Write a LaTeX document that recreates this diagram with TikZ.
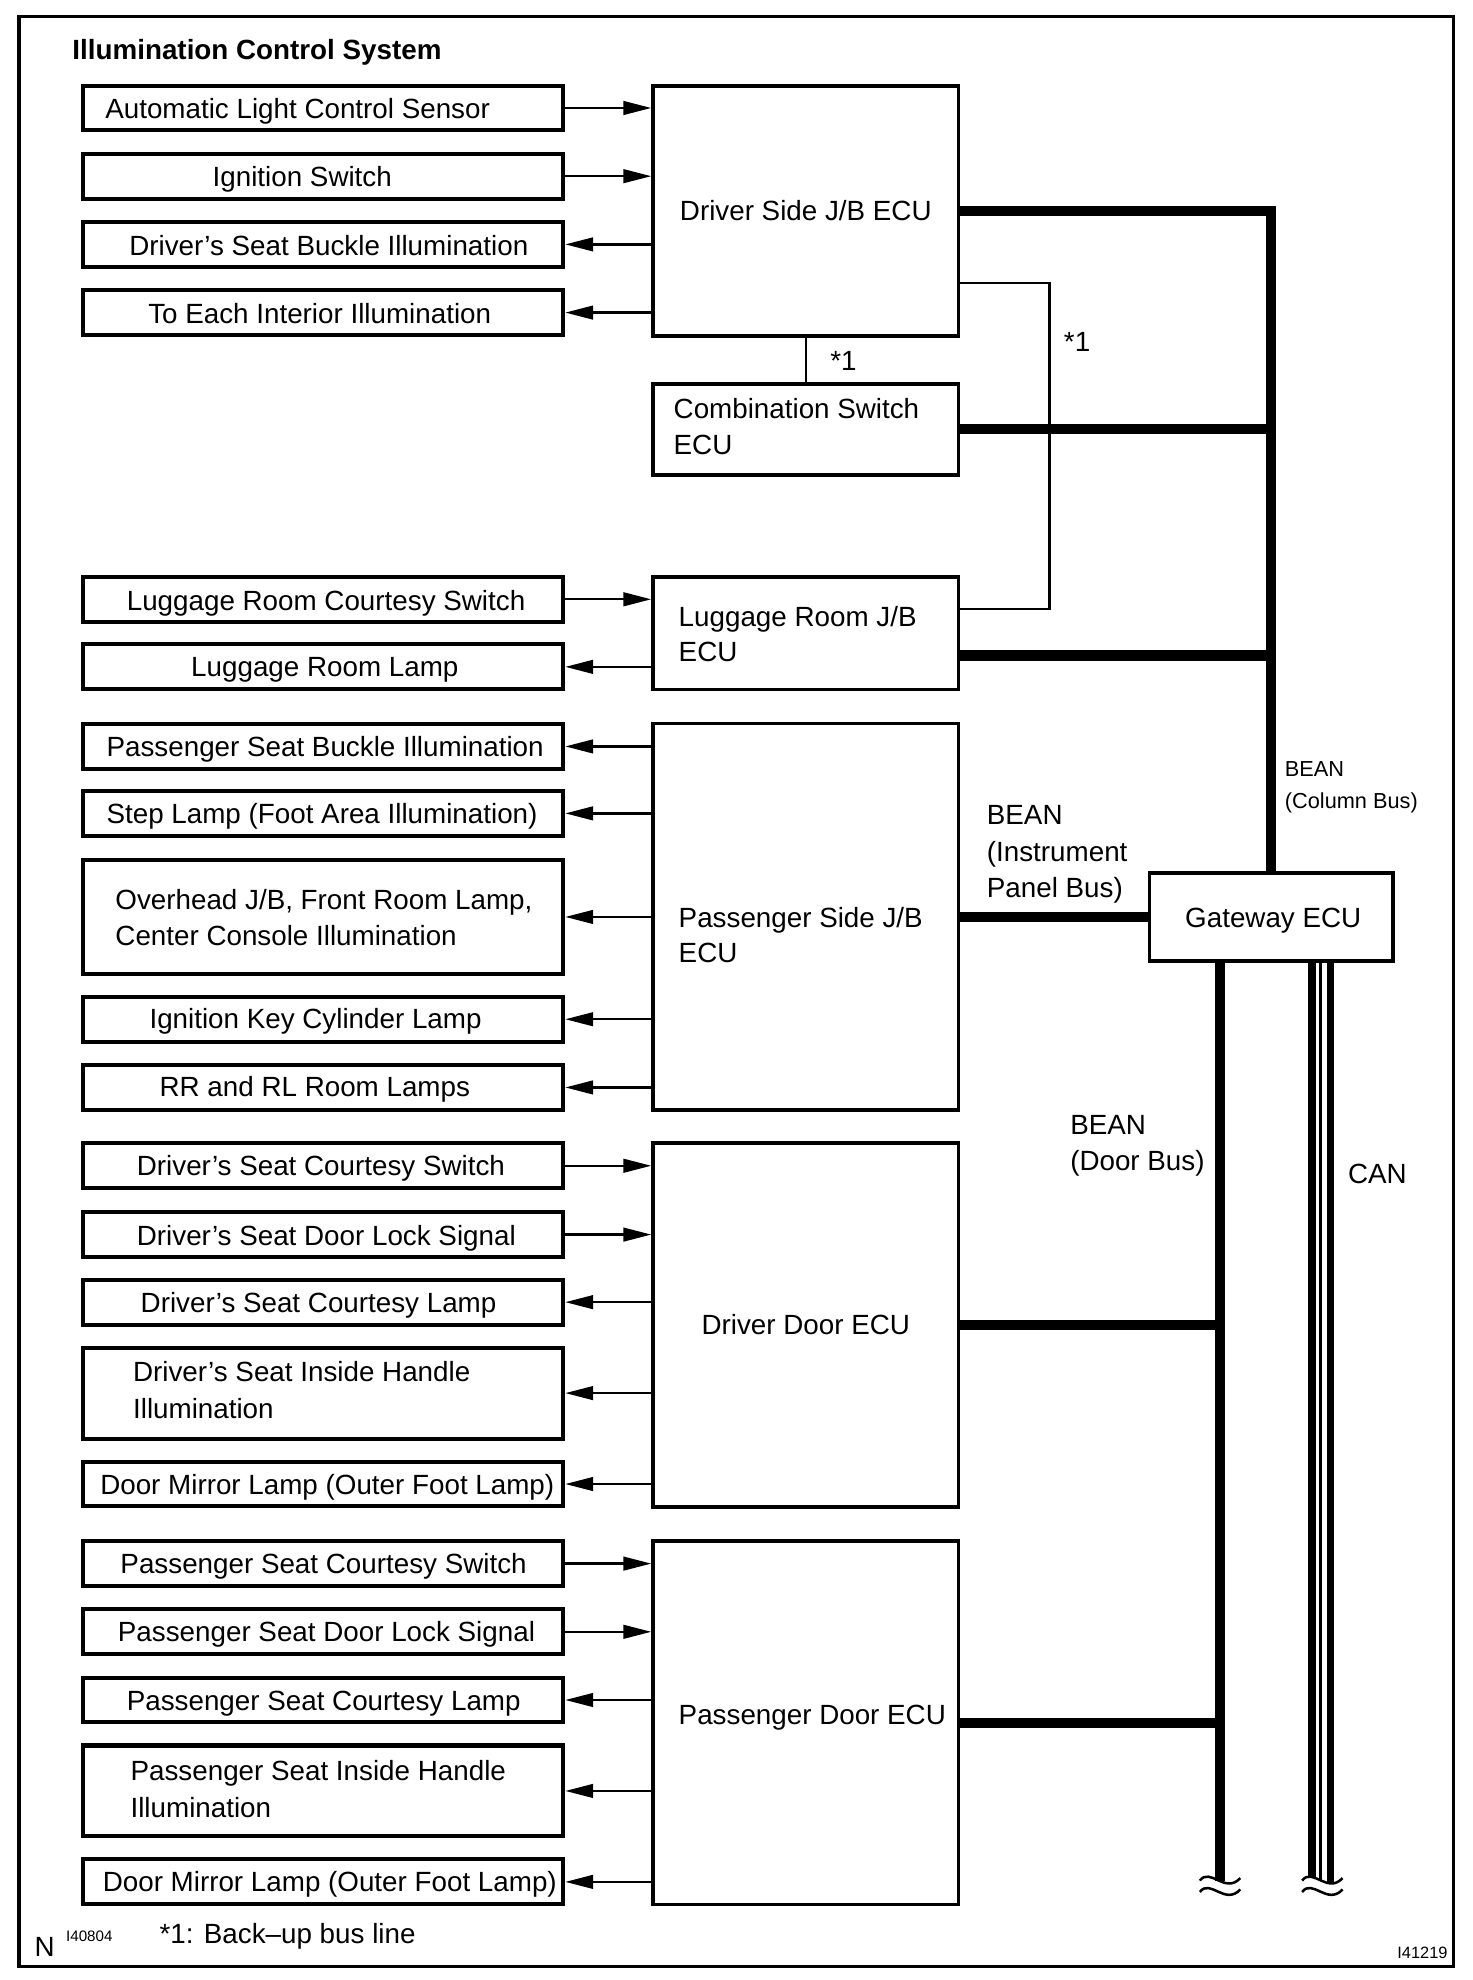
\documentclass[tikz,border=0pt]{standalone}
\usepackage{fontspec}
\setmainfont{Liberation Sans}
\usetikzlibrary{arrows.meta}
\begin{document}
\begin{tikzpicture}[x=0.5pt,y=-0.5pt,
  lbox/.style={draw, line width=1.6pt, minimum width=190pt, minimum height=17.75pt, inner sep=0pt},
  ecu/.style={draw, line width=1.4pt, minimum width=121pt, inner sep=0pt, font=\fontsize{11}{14.5}\selectfont},
  txt/.style={inner sep=0pt, anchor=base west, font=\fontsize{11}{14.5}\selectfont},
  stxt/.style={inner sep=0pt, anchor=base west, font=\fontsize{8.6}{12.5}\selectfont},
  thinl/.style={line width=0.9pt},
  inarr/.style={line width=0.9pt, -{Triangle[length=11pt,width=5.4pt]}},
  outarr/.style={line width=0.9pt, {Triangle[length=11pt,width=5.4pt]}-},
  bus/.style={line width=4pt},
  wave/.style={line width=1pt}
]
\useasboundingbox (0,0) rectangle (1165.5,1567.7);
\draw[line width=1.3pt] (15,13) rectangle (1151,1557);

\node[inner sep=0pt, anchor=base west, font=\bfseries\fontsize{11}{13}\selectfont] (title) at (57,47) {Illumination Control System};

% left boxes
\node[lbox] (b1) at (256,85.5) {};
\node[lbox] (b2) at (256,139.5) {};
\node[lbox] (b3) at (256,193.5) {};
\node[lbox] (b4) at (256,247.5) {};
\node[lbox] (b5) at (256,474.5) {};
\node[lbox] (b6) at (256,528) {};
\node[lbox] (b7) at (256,591) {};
\node[lbox] (b8) at (256,644) {};
\node[lbox, minimum height=45pt] (b9) at (256,726) {};
\node[lbox] (b10) at (256,807) {};
\node[lbox] (b11) at (256,861) {};
\node[lbox] (b12) at (256,923) {};
\node[lbox] (b13) at (256,977.5) {};
\node[lbox] (b14) at (256,1031) {};
\node[lbox, minimum height=36pt] (b15) at (256,1103) {};
\node[lbox] (b16) at (256,1175) {};
\node[lbox] (b17) at (256,1238) {};
\node[lbox] (b18) at (256,1292) {};
\node[lbox] (b19) at (256,1346) {};
\node[lbox, minimum height=36pt] (b20) at (256,1418) {};
\node[lbox] (b21) at (256,1490) {};

\node[txt] (t1) at (83,94) {Automatic Light Control Sensor};
\node[txt] (t2) at (168,148) {Ignition Switch};
\node[txt] (t3) at (102,202) {Driver’s Seat Buckle Illumination};
\node[txt] (t4) at (117,256) {To Each Interior Illumination};
\node[txt] (t5) at (100,483) {Luggage Room Courtesy Switch};
\node[txt] (t6) at (151,536) {Luggage Room Lamp};
\node[txt] (t7) at (84,599) {Passenger Seat Buckle Illumination};
\node[txt] (t8) at (84,652) {Step Lamp (Foot Area Illumination)};
\node[txt] (t9a) at (91,720) {Overhead J/B, Front Room Lamp,};
\node[txt] (t9b) at (91,749) {Center Console Illumination};
\node[txt] (t10) at (118,814) {Ignition Key Cylinder Lamp};
\node[txt] (t11) at (126,868) {RR and RL Room Lamps};
\node[txt] (t12) at (108,931) {Driver’s Seat Courtesy Switch};
\node[txt] (t13) at (108,986) {Driver’s Seat Door Lock Signal};
\node[txt] (t14) at (111,1039) {Driver’s Seat Courtesy Lamp};
\node[txt] (t15a) at (105,1094) {Driver’s Seat Inside Handle};
\node[txt] (t15b) at (105,1123) {Illumination};
\node[txt] (t16) at (79,1183) {Door Mirror Lamp (Outer Foot Lamp)};
\node[txt] (t17) at (95,1246) {Passenger Seat Courtesy Switch};
\node[txt] (t18) at (93,1300) {Passenger Seat Door Lock Signal};
\node[txt] (t19) at (100,1354) {Passenger Seat Courtesy Lamp};
\node[txt] (t20a) at (103,1410) {Passenger Seat Inside Handle};
\node[txt] (t20b) at (103,1439) {Illumination};
\node[txt] (t21) at (81,1498) {Door Mirror Lamp (Outer Foot Lamp)};

% ECU boxes
\node[ecu, minimum height=99pt] (djb) at (638,167) {Driver Side J/B ECU};
\node[ecu, minimum height=36pt] (cs) at (638,340) {};
\node[ecu, minimum height=44.5pt] (lj) at (638,501.5) {};
\node[ecu, minimum height=153pt] (psj) at (638,726) {};
\node[ecu, minimum height=144pt] (dd) at (638,1049) {Driver Door ECU};
\node[ecu, minimum height=144pt] (pd) at (638,1364) {};
\node[ecu, minimum width=96.5pt, minimum height=35pt] (gw) at (1006.5,726) {};

\node[txt] (gwt) at (938,734) {Gateway ECU};
\node[txt] (cst1) at (533,331) {Combination Switch};
\node[txt] (cst2) at (533,360) {ECU};
\node[txt] (ljt1) at (537,496) {Luggage Room J/B};
\node[txt] (ljt2) at (537,524) {ECU};
\node[txt] (pst1) at (537,734) {Passenger Side J/B};
\node[txt] (pst2) at (537,762) {ECU};
\node[txt] (pdt) at (537,1365) {Passenger Door ECU};

% arrows
\foreach \b in {b1,b2,b5,b12,b13,b17,b18} \draw[inarr] (\b.east) -- (\b.east -| djb.west);
\foreach \b in {b3,b4,b6,b7,b8,b9,b10,b11,b14,b15,b16,b19,b20,b21} \draw[outarr] (\b.east) -- (\b.east -| djb.west);

% bus lines
\coordinate (bk) at (831,350);
\coordinate (db) at (966,1489);
\coordinate (canA) at (1038.8,1487);
\coordinate (canB) at (1045.5,1489);
\coordinate (canC) at (1053.4,1491);
\draw[bus] (djb.east) -| (gw.north);
\draw[bus] (cs.east) -- (cs.east -| gw.north);
\draw[bus] ([yshift=-8.75pt]lj.east) -- ([yshift=-8.75pt]lj.east -| gw.north);
\draw[bus] (psj.east) -- (gw.west);
\draw[bus] (db |- gw.south) -- (db);
\draw[bus] (dd.east) -- (dd.east -| db);
\draw[bus] (pd.east) -- (pd.east -| db);
\draw[line width=2.9pt] (canA |- gw.south) -- (canA);
\draw[line width=0.9pt] (canB |- gw.south) -- (canB);
\draw[line width=2.9pt] (canC |- gw.south) -- (canC);

% back-up bus line
\draw[thinl] (djb.south) -- (cs.north);
\draw[thinl] ([yshift=-28.5pt]djb.east) -| (bk) |- ([yshift=9.75pt]lj.east);

% waves
\foreach \x in {950,1031} {
  \draw[wave] (\x,1489) .. controls (\x+8,1478) and (\x+20,1500) .. (\x+32,1487);
  \draw[wave] (\x,1498) .. controls (\x+8,1487) and (\x+20,1509) .. (\x+32,1496);
}

% labels
\node[txt] (s1a) at (657,293) {*1};
\node[txt] (s1b) at (842,278) {*1};
\node[stxt] (bc1) at (1017,615) {BEAN};
\node[stxt] (bc2) at (1017,640) {(Column Bus)};
\node[txt] (bi1) at (781,653) {BEAN};
\node[txt] (bi2) at (781,682) {(Instrument};
\node[txt] (bi3) at (781,711) {Panel Bus)};
\node[txt] (bd1) at (847,898) {BEAN};
\node[txt] (bd2) at (847,927) {(Door Bus)};
\node[txt] (canl) at (1067,937) {CAN};

\node[txt] (nn) at (27,1549) {N};
\node[inner sep=0pt, anchor=base west, font=\fontsize{6}{7}\selectfont] (id1) at (52,1537) {I40804};
\node[txt] (note) at (126,1539) {*1: Back–up bus line};
\node[inner sep=0pt, anchor=base west, font=\fontsize{6.5}{7}\selectfont] (id2) at (1106,1551) {I41219};
\end{tikzpicture}
\end{document}
